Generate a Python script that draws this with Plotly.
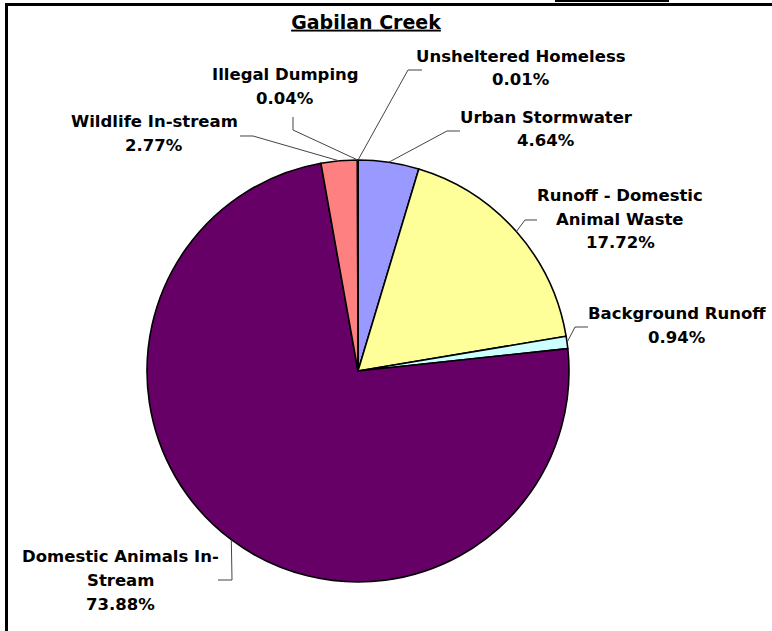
import math

import plotly.graph_objects as go

# %% Data
sources = [
    "Unsheltered Homeless",
    "Urban Stormwater",
    "Runoff - Domestic Animal Waste",
    "Background Runoff",
    "Domestic Animals In-Stream",
    "Wildlife In-stream",
    "Illegal Dumping",
]
shares = [0.01, 4.64, 17.72, 0.94, 73.88, 2.77, 0.04]
label_lines = [
    ["Unsheltered Homeless"],
    ["Urban Stormwater"],
    ["Runoff - Domestic", "Animal Waste"],
    ["Background Runoff"],
    ["Domestic Animals In-", "Stream"],
    ["Wildlife In-stream"],
    ["Illegal Dumping"],
]
slice_colors = ["#993366", "#9999FF", "#FFFF99", "#CCFFFF", "#660066", "#FF8080", "#0066CC"]

# %% Layout helpers (pixels, origin top-left)
W, H = 772, 631
cx, cy, r = 358, 371, 211
font = "DejaVu Sans"
line_gap = 24

# label block centre + the two leader-line points next to the text
label_pos = [(521, 68), (546, 129), (620, 219), (677, 325), (120, 580), (154, 133), (285, 87)]
leader_pts = [
    [(422, 70), (408, 70)],
    [(460, 131), (447, 131)],
    [(537, 220), (525, 220)],
    [(588, 327), (575, 327)],
    [(218, 580), (232, 580)],
    [(240, 136), (253, 136)],
    [(293, 117), (293, 130)],
]


def px(x, y):
    return x / W, 1 - y / H


fig = go.Figure(
    go.Pie(
        labels=sources,
        values=shares,
        sort=False,
        direction="clockwise",
        rotation=0,
        textinfo="none",
        hoverinfo="label+percent",
        marker=dict(colors=slice_colors, line=dict(color="black", width=1.6)),
        domain=dict(
            x=[(cx - r) / W, (cx + r) / W],
            y=[1 - (cy + r) / H, 1 - (cy - r) / H],
        ),
        showlegend=False,
    )
)

# %% Labels and leader lines
total = sum(shares)
cum = 0.0
for i, v in enumerate(shares):
    mid = (cum + v / 2) / total * 2 * math.pi
    cum += v
    edge = (cx + r * math.sin(mid), cy - r * math.cos(mid))
    pts = leader_pts[i] + [edge]
    path = "M " + " L ".join("{:.5f} {:.5f}".format(*px(*p)) for p in pts)
    fig.add_shape(
        type="path", path=path, xref="paper", yref="paper",
        line=dict(color="#444444", width=1),
    )
    lines = label_lines[i] + [f"{v:.2f}%"]
    bx, by = label_pos[i]
    for k, txt in enumerate(lines):
        lx, ly = px(bx, by + (k - (len(lines) - 1) / 2) * line_gap)
        fig.add_annotation(
            x=lx, y=ly, xref="paper", yref="paper",
            text=txt,
            showarrow=False, xanchor="center", yanchor="middle",
            font=dict(family=font, size=16.5, color="black", weight="bold"),
        )

# frame: left and top edges, plus the stray bar at the top
for x0, y0, x1, y1 in [(5, 3, 8, 631), (5, 3, 772, 6), (555, 0, 669, 2)]:
    a, b = px(x0, y0)
    c, d = px(x1, y1)
    fig.add_shape(type="rect", xref="paper", yref="paper", x0=a, y0=b, x1=c, y1=d,
                  fillcolor="black", line=dict(width=0))

fig.update_layout(
    width=W,
    height=H,
    margin=dict(l=0, r=0, t=0, b=0),
    paper_bgcolor="white",
    plot_bgcolor="white",
    title=dict(
        text="Gabilan Creek",
        x=366 / W, xanchor="center",
        y=1 - 22 / H, yanchor="middle",
        font=dict(family=font, size=19, color="black", weight="bold", lineposition="under"),
    ),
)

fig.write_html(
    "out.html",
    config={"displayModeBar": False},
    post_script="document.body.style.margin='0';",
)
